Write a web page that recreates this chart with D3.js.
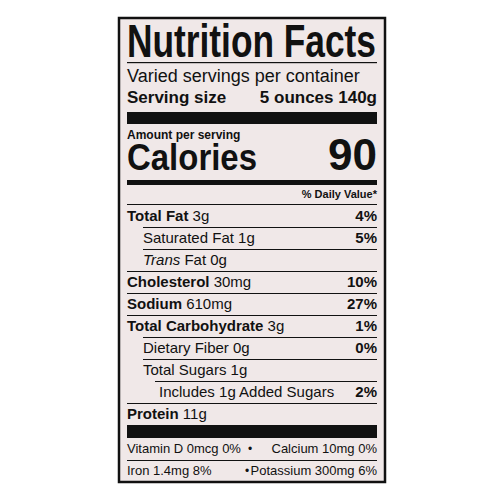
<!DOCTYPE html><html><head><meta charset="utf-8">
<script src="https://cdn.jsdelivr.net/npm/d3@7"></script>
<style>body{margin:0;background:#fff}text{font-family:"Liberation Sans Narrow","Liberation Sans",Arial,sans-serif;fill:#111}</style>
</head><body><svg width="500" height="500"></svg>
<script>
const nutrients = ["Total Fat","Saturated Fat","Trans Fat","Cholesterol","Sodium","Total Carbohydrate","Dietary Fiber","Total Sugars","Includes 1g Added Sugars","Protein"];
const amounts = ["3g","1g","0g","30mg","610mg","3g","0g","1g","","11g"];
const dailyValues = ["4%","5%","","10%","27%","1%","0%","","2%",""];
const indent = [0,1,1,0,0,0,1,1,2,0];
const boldName = [true,false,false,true,true,true,false,false,false,true];
const vitamins = [["Vitamin D 0mcg 0%","Calcium 10mg 0%"],["Iron 1.4mg 8%","Potassium 300mg 6%"]];
const calories = 90;

const svg = d3.select("svg");
const L=119,R=385,T=18,B=482, pl=127, pr=377;
svg.append("rect").attr("x",L).attr("y",T).attr("width",R-L).attr("height",B-T).attr("fill","#f0e8e8").attr("stroke","#111").attr("stroke-width",2.5);
const bar=(y,h,x1=pl)=>svg.append("rect").attr("x",x1).attr("y",y).attr("width",pr-x1).attr("height",h).attr("fill","#111");
const txt=(x,y,s,size,w,anchor="start",style="normal")=>svg.append("text").attr("x",x).attr("y",y).attr("font-size",size).attr("font-weight",w).attr("text-anchor",anchor).attr("font-style",style).text(s);

txt(pl,57,"Nutrition Facts",46,"bold").attr("textLength",pr-pl-1).attr("lengthAdjust","spacingAndGlyphs");
bar(62,1.2);
txt(pl,82,"Varied servings per container",18,"normal");
txt(pl,103,"Serving size",17,"bold"); txt(pr,103,"5 ounces 140g",17,"bold","end");
bar(112,12);
txt(pl,139,"Amount per serving",12,"bold");
txt(pl,170,"Calories",36,"bold").attr("textLength",130).attr("lengthAdjust","spacingAndGlyphs");
txt(pr,170,calories,44,"bold","end");
bar(180,5);
txt(pr,198,"% Daily Value*",11,"bold","end");
bar(204,1);

const y=d3.scaleBand().domain(d3.range(nutrients.length)).range([205,425]);
const ix=d3.scaleOrdinal().domain([0,1,2]).range([pl,pl+16,pl+32]);
nutrients.forEach((n,i)=>{
  const by=y(i)+y.bandwidth()-6;
  const t=svg.append("text").attr("x",ix(indent[i])).attr("y",by).attr("font-size",15);
  t.append("tspan").attr("font-weight",boldName[i]?"bold":"normal").attr("font-style",n==="Trans Fat"?"italic":"normal").text(n==="Trans Fat"?"Trans":n);
  if(n==="Trans Fat") t.append("tspan").text(" Fat");
  if(amounts[i]) t.append("tspan").text(" "+amounts[i]);
  if(dailyValues[i]) txt(pr,by,dailyValues[i],15,"bold","end");
  if(i<nutrients.length-1){
    const nxt=indent[i+1];
    const lx = nxt===0?pl:ix(Math.min(nxt,1));
    bar(y(i)+y.bandwidth(),1,i===7?ix(2)-4:lx);
  }
});
bar(425,13);
const vy=d3.scaleBand().domain([0,1]).range([438,482]);
vitamins.forEach((v,i)=>{
  const by=vy(i)+vy.bandwidth()-7;
  txt(pl,by,v[0],13,"normal");
  txt(pr,by,v[1],13,"normal","end");
  txt(i===0?250:247,by,"•",12,"normal","middle");
  if(i===0) bar(vy(i)+vy.bandwidth(),1);
});
</script></body></html>
